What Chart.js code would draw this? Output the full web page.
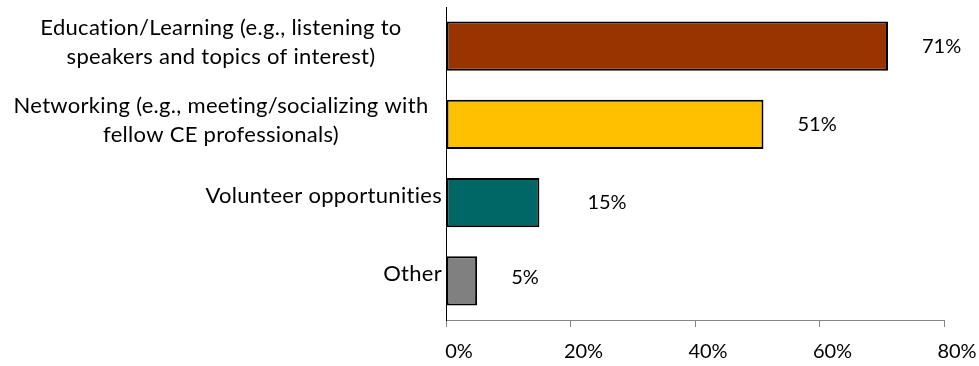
<!DOCTYPE html>
<html>
<head>
<meta charset="utf-8">
<script src="https://cdn.jsdelivr.net/npm/chart.js@4/dist/chart.umd.min.js"></script>
<style>
  html, body { margin: 0; padding: 0; background: #ffffff; }
  #wrap { width: 979px; height: 366px; position: relative; }
</style>
</head>
<body>
<div id="wrap"><canvas id="chart"></canvas></div>
<script>
// Survey responses: reasons for attending
const categories = [
  ['Education/Learning (e.g., listening to', 'speakers and topics of interest)'],
  ['Networking (e.g., meeting/socializing with', 'fellow CE professionals)'],
  'Volunteer opportunities',
  'Other'
];
const percentValues = [71, 51, 15, 5];
const barColors = ['#993300', '#FFC000', '#006666', '#808080'];
const xTickValues = [0, 20, 40, 60, 80];

const FONT_FAMILY = 'Lato, "Open Sans", sans-serif';
const LABEL_SIZE = 22;
const NUMBER_SIZE = 20;

// Category labels: wrapped labels are centred as a block, single-line labels hug the axis
const categoryLabelPlugin = {
  id: 'categoryLabels',
  afterDraw(chart) {
    const ctx = chart.ctx;
    const yScale = chart.scales.y;
    const rightEdge = chart.chartArea.left - 4;
    const centreX = rightEdge / 2;
    const lineHeight = 29;
    ctx.save();
    ctx.font = LABEL_SIZE + 'px ' + FONT_FAMILY;
    if ('letterSpacing' in ctx) ctx.letterSpacing = '0.3px';
    ctx.fillStyle = '#000000';
    ctx.textBaseline = 'middle';
    categories.forEach((label, i) => {
      const y = yScale.getPixelForTick(i) - 4;
      if (Array.isArray(label)) {
        ctx.textAlign = 'center';
        label.forEach((line, k) => {
          ctx.fillText(line, centreX, y + (k - (label.length - 1) / 2) * lineHeight);
        });
      } else {
        ctx.textAlign = 'right';
        ctx.fillText(label, rightEdge, y - 3);
      }
    });
    ctx.restore();
  }
};

// Value labels placed to the right of each bar
const valueLabelPlugin = {
  id: 'valueLabels',
  afterDatasetsDraw(chart, args, opts) {
    const ctx = chart.ctx;
    const meta = chart.getDatasetMeta(0);
    ctx.save();
    ctx.font = NUMBER_SIZE + 'px ' + FONT_FAMILY;
    ctx.fillStyle = '#000000';
    ctx.textAlign = 'left';
    ctx.textBaseline = 'middle';
    meta.data.forEach((bar, i) => {
      ctx.fillText(percentValues[i] + '%', bar.x + opts.gaps[i], bar.y + opts.dy[i]);
    });
    ctx.restore();
  }
};

new Chart(document.getElementById('chart'), {
  type: 'bar',
  data: {
    labels: categories,
    datasets: [{
      data: percentValues,
      backgroundColor: barColors,
      borderColor: '#000000',
      borderWidth: 2,
      borderSkipped: false,
      barPercentage: 0.63,
      categoryPercentage: 1.0
    }]
  },
  options: {
    indexAxis: 'y',
    responsive: true,
    maintainAspectRatio: false,
    animation: false,
    layout: { padding: { top: 7, right: 35, bottom: 0, left: 0 } },
    plugins: {
      legend: { display: false },
      tooltip: { enabled: false },
      valueLabels: { gaps: [34, 34, 48, 34], dy: [0, 0, 0, -3] }
    },
    scales: {
      x: {
        min: 0,
        max: 80,
        afterBuildTicks(scale) {
          scale.ticks = xTickValues.map(v => ({ value: v }));
        },
        afterFit(scale) { scale.height = 46; },
        border: { display: true, color: '#868686', width: 1 },
        grid: { drawOnChartArea: false, drawTicks: true, tickLength: 7, color: '#868686' },
        ticks: {
          callback: v => v + '%',
          color: '#000000',
          font: { family: FONT_FAMILY, size: NUMBER_SIZE },
          padding: 13,
          labelOffset: 13,
          maxRotation: 0
        }
      },
      y: {
        afterFit(scale) { scale.width = 446; },
        border: { display: true, color: '#000000', width: 1 },
        grid: { display: false },
        ticks: { display: false }
      }
    }
  },
  plugins: [categoryLabelPlugin, valueLabelPlugin]
});
</script>
</body>
</html>
